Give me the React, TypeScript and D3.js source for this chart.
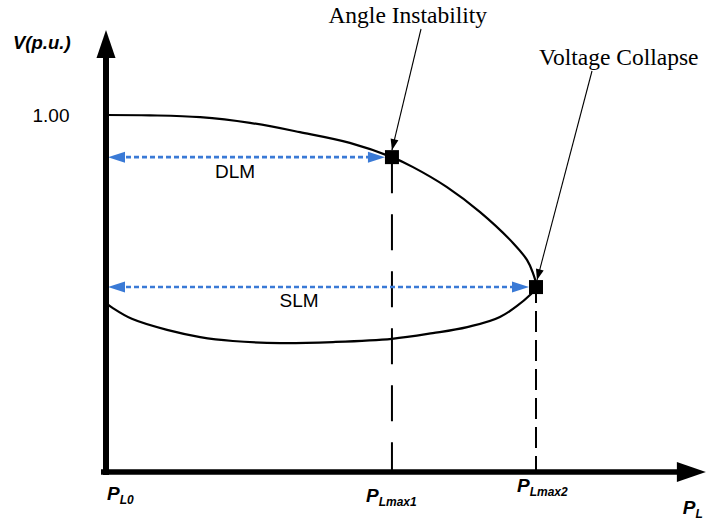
import React from "react";
import * as d3 from "d3";

// PV curve (P in units of PLmax2, V in p.u.) — upper branch then lower branch
const curveP = [0, 0.102, 0.219, 0.335, 0.451, 0.567, 0.665, 0.714, 0.793, 0.87, 0.947, 0.979, 0.993, 1.0,
  0.986, 0.916, 0.84, 0.76, 0.665, 0.528, 0.405, 0.295, 0.219, 0.142, 0.06, 0.016, 0];
const curveV = [1.0, 0.999, 0.994, 0.978, 0.952, 0.922, 0.882, 0.854, 0.798, 0.728, 0.641, 0.594, 0.557, 0.518,
  0.496, 0.434, 0.406, 0.389, 0.373, 0.364, 0.361, 0.367, 0.378, 0.398, 0.429, 0.459, 0.473];

const pLmax1 = 0.665;
const pLmax2 = 1.0;
const vDLM = 0.882;
const vSLM = 0.518;
const vTick = 1.0;
const vTickLabel = "1.00";
const axisEndP = 1.395;
const axisEndV = 1.238;

const marginLabels = ["DLM", "SLM"];
const xLabelMain = ["P", "P", "P", "P"];
const xLabelSub = ["L0", "Lmax1", "Lmax2", "L"];
const xLabelP = [0, pLmax1, pLmax2, axisEndP];
const annotationTexts = ["Angle Instability", "Voltage Collapse"];

const W = 707;
const H = 523;
const BLUE = "#3a7ad6";
const SANS = "'Liberation Sans', Arial, sans-serif";
const SERIF = "'Liberation Serif', 'Times New Roman', serif";

function tri(tipX: number, tipY: number, fromX: number, fromY: number, len: number, wid: number) {
  const dx = tipX - fromX, dy = tipY - fromY;
  const d = Math.hypot(dx, dy);
  const ux = dx / d, uy = dy / d;
  const bx = tipX - ux * len, by = tipY - uy * len;
  const px = -uy * wid / 2, py = ux * wid / 2;
  return `M${tipX},${tipY}L${bx + px},${by + py}L${bx - px},${by - py}Z`;
}

export default function App() {
  const x = d3.scaleLinear().domain([0, 1]).range([106, 536]);
  const y = d3.scaleLinear().domain([0, 1]).range([472, 115]);

  const pts: [number, number][] = curveP.map((p, i) => [x(p), y(curveV[i])]);
  const line = d3.line().curve(d3.curveCatmullRom.alpha(0.5));
  const curvePath = line(pts) || "";

  const x0 = x(0), y0 = y(0);
  const xEnd = x(axisEndP), yEnd = y(axisEndV);
  const sq = 14;

  const dlmY = y(vDLM), slmY = y(vSLM);
  const dlmRight = x(pLmax1) - sq / 2;
  const slmRight = x(pLmax2) - sq / 2;
  const leftTip = x0 + 2;

  const aiTip: [number, number] = [x(pLmax1), y(vDLM) - sq / 2];
  const aiFrom: [number, number] = [421, 29];
  const vcTip: [number, number] = [x(pLmax2) + 1, y(vSLM) - sq / 2];
  const vcFrom: [number, number] = [592, 71];

  const labelDx = [1, -26, -19, -23];
  const labelY = [500, 502, 492, 514];

  return (
    <svg width={W} height={H} style={{ position: "absolute", left: 0, top: 0, background: "#fff" }}>
      {/* dashed verticals */}
      <line x1={x(pLmax1)} x2={x(pLmax1)} y1={dlmY} y2={y0} stroke="#000" strokeWidth={2} strokeDasharray="36,21" />
      <line x1={x(pLmax2)} x2={x(pLmax2)} y1={slmY} y2={y0} stroke="#000" strokeWidth={2} strokeDasharray="21,8" strokeDashoffset={5} />

      {/* PV curve */}
      <path d={curvePath} fill="none" stroke="#000" strokeWidth={2.2} />

      {/* blue margin arrows */}
      {[dlmY, slmY].map((yy, i) => {
        const right = i === 0 ? dlmRight : slmRight;
        return (
          <g key={i}>
            <line x1={leftTip + 10} x2={right - 10} y1={yy} y2={yy} stroke={BLUE} strokeWidth={2.6} strokeDasharray="5,3" />
            <path d={tri(leftTip, yy, leftTip + 10, yy, 17, 11)} fill={BLUE} />
            <path d={tri(right, yy, right - 10, yy, 17, 11)} fill={BLUE} />
          </g>
        );
      })}
      <text x={235} y={178} fontFamily={SANS} fontSize={19} textAnchor="middle">{marginLabels[0]}</text>
      <text x={299} y={307} fontFamily={SANS} fontSize={19} textAnchor="middle">{marginLabels[1]}</text>

      {/* squares */}
      <rect x={x(pLmax1) - sq / 2} y={dlmY - sq / 2} width={sq} height={sq} fill="#000" />
      <rect x={x(pLmax2) - sq / 2} y={slmY - sq / 2} width={sq} height={sq} fill="#000" />

      {/* axes */}
      <line x1={x0} x2={x0} y1={y0 + 3} y2={yEnd + 26} stroke="#000" strokeWidth={6} />
      <path d={tri(x0, yEnd, x0, yEnd + 30, 28, 19)} fill="#000" />
      <line x1={x0 - 5} x2={xEnd - 26} y1={y0} y2={y0} stroke="#000" strokeWidth={5.5} />
      <path d={tri(xEnd, y0, xEnd - 30, y0, 29, 20)} fill="#000" />

      {/* y labels */}
      <text x={13} y={49} fontFamily={SANS} fontSize={18.5} fontWeight="bold" fontStyle="italic">V(p.u.)</text>
      <text x={69.5} y={y(vTick) + 7} fontFamily={SANS} fontSize={19} textAnchor="end">{vTickLabel}</text>

      {/* x labels */}
      {xLabelMain.map((m, i) => (
        <text key={i} x={x(xLabelP[i]) + labelDx[i]} y={labelY[i]} fontFamily={SANS} fontWeight="bold" fontStyle="italic" fontSize={19}>
          {m}
          <tspan fontSize={12} dy={4}>{xLabelSub[i]}</tspan>
        </text>
      ))}

      {/* annotations */}
      <text x={487} y={23} fontFamily={SERIF} fontSize={23.5} textAnchor="end">{annotationTexts[0]}</text>
      <line x1={aiFrom[0]} y1={aiFrom[1]} x2={aiTip[0]} y2={aiTip[1]} stroke="#000" strokeWidth={1.1} />
      <path d={tri(aiTip[0], aiTip[1], aiFrom[0], aiFrom[1], 11, 8)} fill="#000" />
      <text x={539} y={65} fontFamily={SERIF} fontSize={23.5}>{annotationTexts[1]}</text>
      <line x1={vcFrom[0]} y1={vcFrom[1]} x2={vcTip[0]} y2={vcTip[1]} stroke="#000" strokeWidth={1.1} />
      <path d={tri(vcTip[0], vcTip[1], vcFrom[0], vcFrom[1], 11, 8)} fill="#000" />
    </svg>
  );
}
